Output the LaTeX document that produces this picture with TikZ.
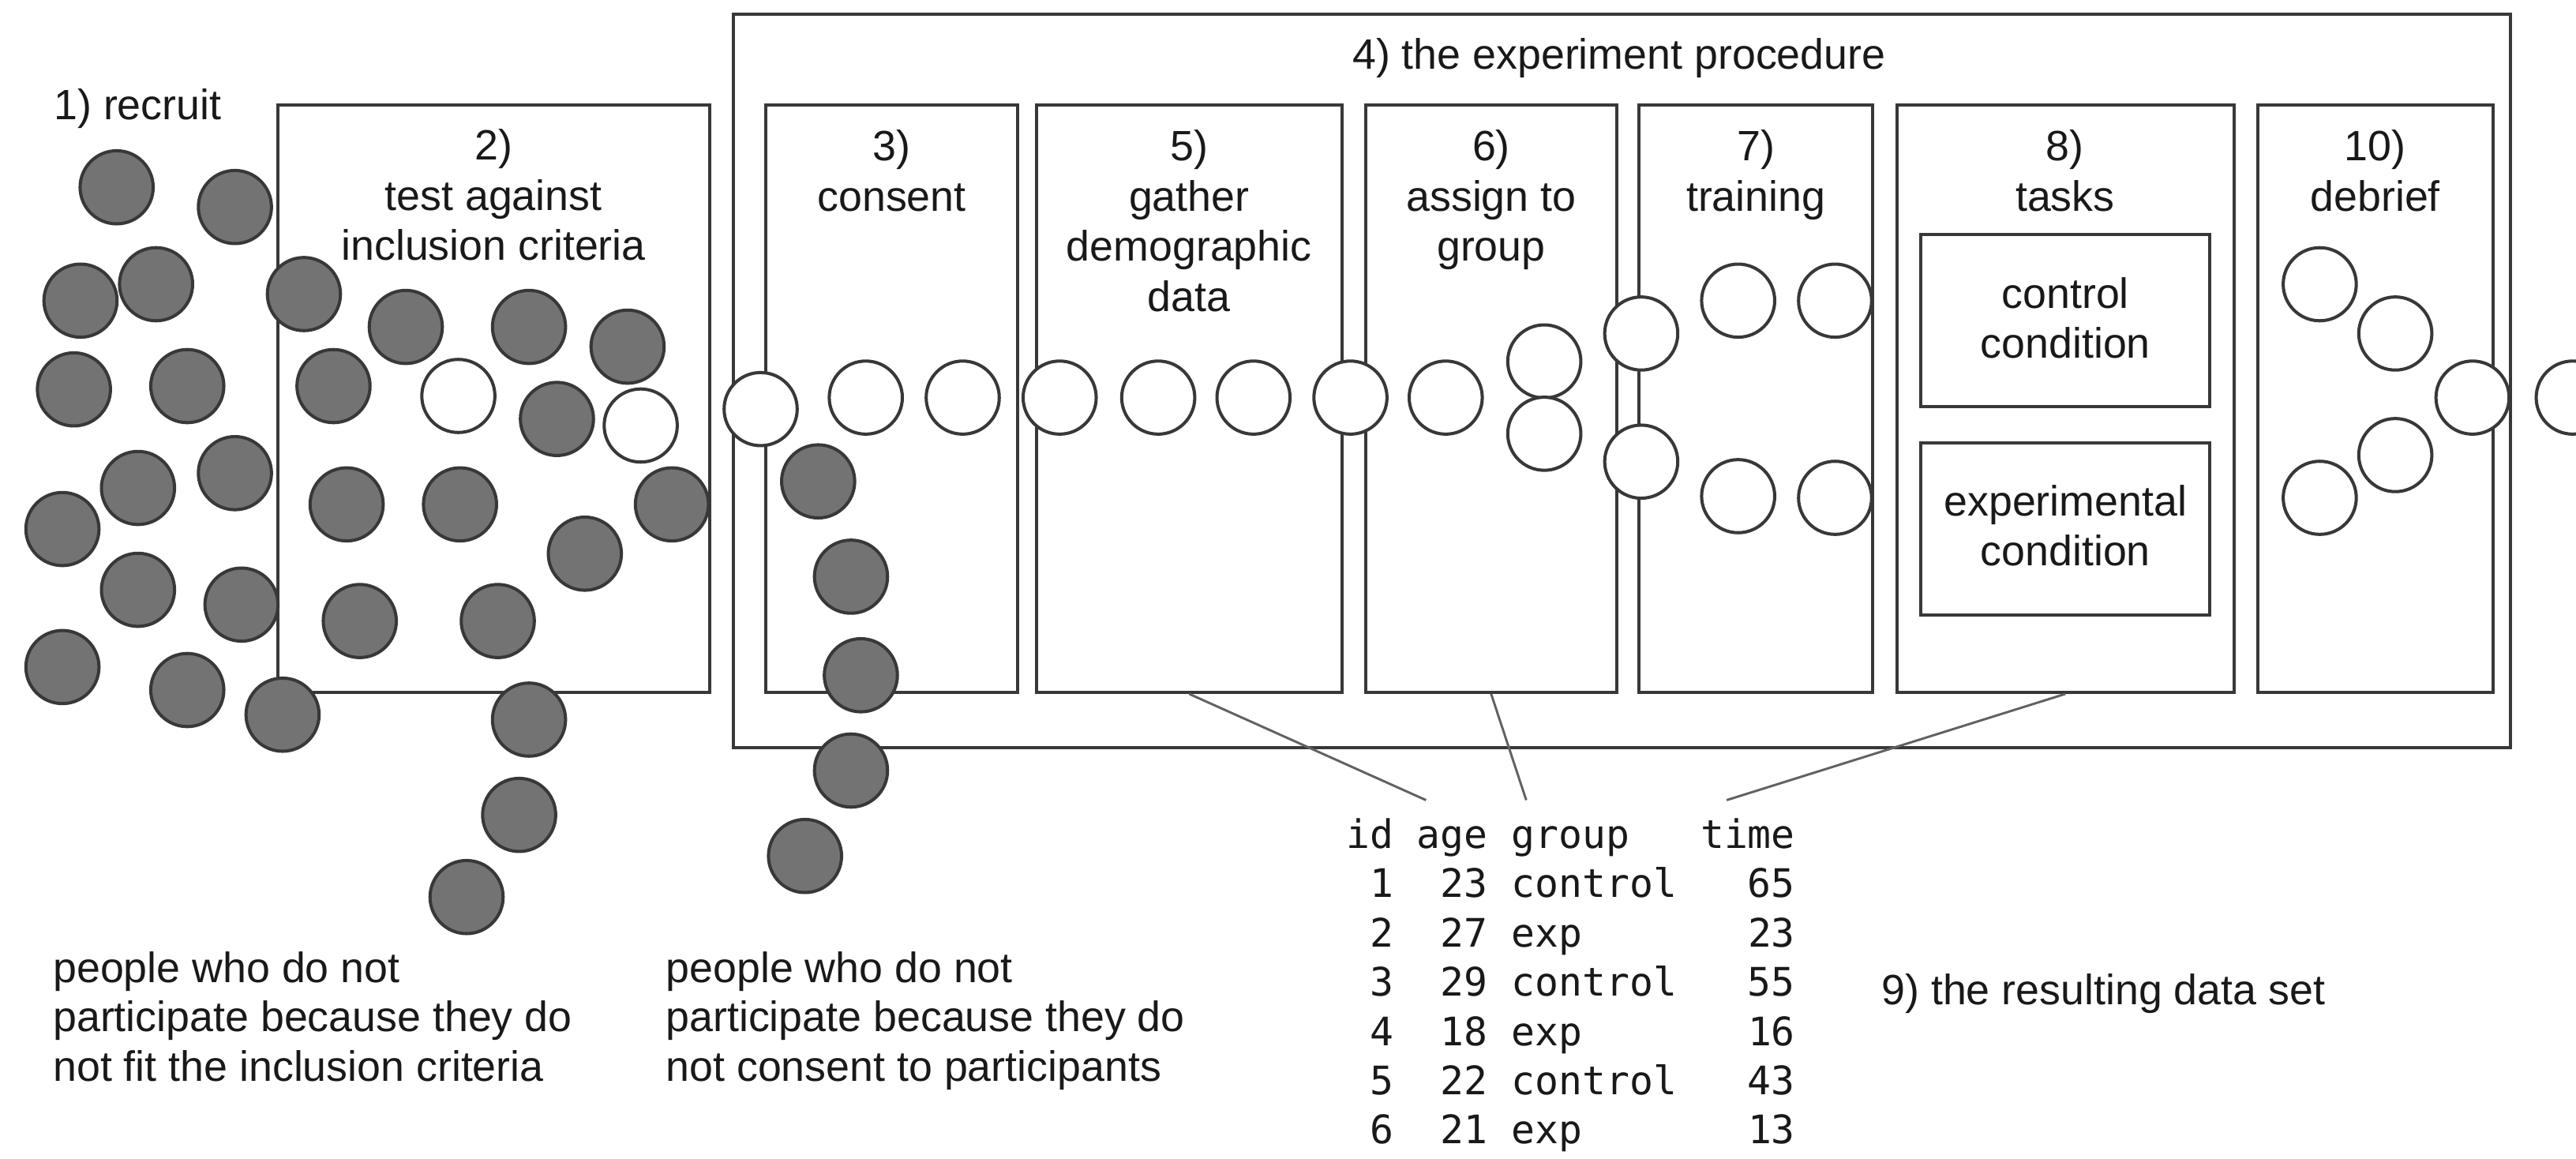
\documentclass[tikz,border=0pt]{standalone}
\usepackage{fontspec}
\setmainfont{Liberation Sans}
\newfontfamily\tablefont{DejaVu Sans Mono}
\usetikzlibrary{fit}
\definecolor{edgegray}{gray}{0.22}
\definecolor{outgray}{gray}{0.45}
\definecolor{txtgray}{gray}{0.1}
\definecolor{linkgray}{gray}{0.38}
\begin{document}
\begin{tikzpicture}[x=0.02cm,y=-0.02cm,
  box/.style={draw=edgegray, line width=1.1pt, inner sep=0pt},
  person/.style={circle, draw=edgegray, line width=1.1pt, minimum size=0.89cm, inner sep=0pt, fill=white},
  outp/.style={person, fill=outgray},
  ttl/.style={font=\fontsize{14.7}{17.4}\selectfont, text=txtgray, align=center, inner sep=0pt, anchor=north},
  note/.style={font=\fontsize{14.7}{17.1}\selectfont, text=txtgray, align=left, inner sep=0pt, anchor=north west},
  lbl/.style={font=\fontsize{14.7}{17.4}\selectfont, text=txtgray, inner sep=0pt},
  link/.style={draw=linkgray, line width=0.8pt}
]
\useasboundingbox (0,0) rectangle (1568,705);
\fill[white] (0,0) rectangle (1568,705);

% boxes
\node[box, fit={(446.5,8.6)(1528,455)}] (proc) {};
\node[box, fit={(169,63.8)(431.9,421.4)}] (b2) {};
\node[box, fit={(466.3,63.8)(619.3,421.4)}] (b3) {};
\node[box, fit={(631,63.8)(816.7,421.4)}] (b5) {};
\node[box, fit={(831.4,63.8)(983.9,421.4)}] (b6) {};
\node[box, fit={(997.8,63.8)(1139.9,421.4)}] (b7) {};
\node[box, fit={(1154.6,63.8)(1359.7,421.4)}] (b8) {};
\node[box, fit={(1374.4,63.8)(1517.3,421.4)}] (b10) {};
\node[box, fit={(1169.3,142.5)(1345,247.6)}] (ctrl) {};
\node[box, fit={(1169.3,269.7)(1345,374.5)}] (expc) {};

% titles
\node[lbl, anchor=base west] (t1) at (32.5,72.7) {1) recruit};
\node[lbl, anchor=base] (t4) at (985.5,42) {4) the experiment procedure};
\node[ttl] (t2) at (300.4,75.6) {\strut 2)\\test against\\inclusion criteria};
\node[ttl] (t3) at (542.8,76) {\strut 3)\\consent};
\node[ttl] (t5) at (723.8,76) {\strut 5)\\gather\\demographic\\data};
\node[ttl] (t6) at (907.7,76) {\strut 6)\\assign to\\group};
\node[ttl] (t7) at (1068.8,76) {\strut 7)\\training};
\node[ttl] (t8) at (1257,76) {\strut 8)\\tasks};
\node[ttl] (t10) at (1445.8,76) {\strut 10)\\debrief};
\node[ttl] (tc) at (1257.2,165.8) {\strut control\\condition};
\node[ttl] (te) at (1257.2,292.1) {\strut experimental\\condition};

% connectors to data set
\coordinate (e5) at (868,487);
\coordinate (e6) at (929,487);
\coordinate (e8) at (1051,487);
\draw[link] (b5.south) -- (e5);
\draw[link] (b6.south) -- (e6);
\draw[link] (b8.south) -- (e8);

% excluded by inclusion criteria
\foreach \x/\y [count=\i] in {71/114, 143/126, 49/183, 95/173, 185/179, 247/199, 322/199, 382/211,
  45/237, 114/235, 203/235, 339/255, 84/297, 143/288, 38/322, 211/307, 280/307, 409/307,
  356/337, 84/359, 147/368, 38/406, 114/420, 172/435, 219/378, 303/378, 322/438, 316/496, 284/546}
  \node[outp] (g\i) at (\x,\y) {};
% excluded by consent
\foreach \x/\y [count=\i] in {498/293, 518/351, 524/411, 518/469, 490/521}
  \node[outp] (c\i) at (\x,\y) {};
% participants
\foreach \x/\y [count=\i] in {279/241, 390/259, 463/249, 527/242, 586/242, 645/242, 705/242, 763/242,
  822/242, 880/242, 940/220, 940/264, 999/203, 999/281, 1058/183, 1117/183, 1058/302, 1117/303,
  1412/173, 1458/203, 1505/242, 1458/277, 1412/303, 1566/242}
  \node[person] (p\i) at (\x,\y) {};

% notes
\node[note] (n1) at (32,576.6) {\strut people who do not\\participate because they do\\not fit the inclusion criteria};
\node[note] (n2) at (405,576.6) {\strut people who do not\\participate because they do\\not consent to participants};
\node[lbl, anchor=base west] (n9) at (1145,611.6) {9) the resulting data set};

% data table
\node[font=\tablefont\fontsize{13.6}{17.07}\selectfont, text=txtgray, align=left, inner sep=0pt, anchor=north west] (data) at (819,495)
  {\strut id~age~group~~~time\\
   ~1~~23~control~~~65\\
   ~2~~27~exp~~~~~~~23\\
   ~3~~29~control~~~55\\
   ~4~~18~exp~~~~~~~16\\
   ~5~~22~control~~~43\\
   ~6~~21~exp~~~~~~~13};
\end{tikzpicture}
\end{document}
